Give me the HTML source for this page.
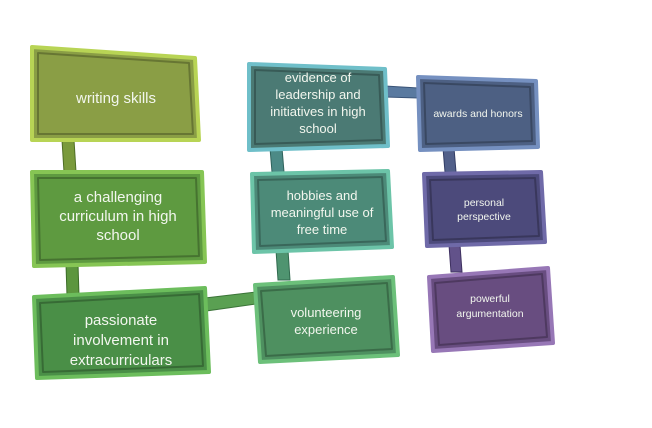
<!DOCTYPE html>
<html><head><style>
body{margin:0;background:#fff;}
svg text{font-family:"Liberation Sans",sans-serif;fill:#f2f6ee;text-anchor:middle;}
</style></head><body>
<svg width="652" height="423" viewBox="0 0 652 423" xmlns="http://www.w3.org/2000/svg">
<g stroke-width="1">
<polygon points="62,140 74,140 76,172 64,172" fill="#7a9a3c" stroke="#4f6e25"/>
<polygon points="66,264 78,264 79,296 67,296" fill="#5c963e" stroke="#3c6d28"/>
<polygon points="205,298 256,292 256,304 206,311" fill="#5aa052" stroke="#3b7438"/>
<polygon points="270,148 282,148 284,172 272,172" fill="#4c8a86" stroke="#2f625c"/>
<polygon points="276,250 288,250 290,280 278,280" fill="#4f9470" stroke="#306a4e"/>
<polygon points="385,86 418,88 418,98 385,97" fill="#5a7aa0" stroke="#3a5478"/>
<polygon points="443,148 454,148 456,172 445,172" fill="#52608a" stroke="#333e66"/>
<polygon points="449,245 460,245 462,272 451,272" fill="#62528a" stroke="#3e3060"/>
</g>
<g stroke-width="4" stroke-linejoin="round">
<polygon points="32,47 195,58 199,140 32,140" fill="#8a9e45" stroke="#b8d455"/>
<polygon points="32,172 202,172 205,262 34,266" fill="#5e9a40" stroke="#86c554"/>
<polygon points="34,297 205,288 209,372 37,378" fill="#4a8f47" stroke="#6cbd5c"/>
<polygon points="249,64 385,69 388,146 249,150" fill="#4b7a74" stroke="#6fbfc9"/>
<polygon points="252,174 388,171 392,247 254,252" fill="#4c8a78" stroke="#6cc4a8"/>
<polygon points="255,285 393,277 398,355 260,362" fill="#4e9060" stroke="#6cc07a"/>
<polygon points="418,77 536,81 538,147 420,150" fill="#4d6083" stroke="#7590c0"/>
<polygon points="424,174 541,172 545,242 427,246" fill="#4c4a7b" stroke="#6f6aa8"/>
<polygon points="429,277 548,268 553,343 433,351" fill="#684d80" stroke="#9777b6"/>
</g>
<g fill="none" stroke="rgba(0,0,0,0.25)" stroke-width="2" stroke-linejoin="round">
<polygon points="38,53 189,63 193,134 38,134"/>
<polygon points="38,178 196,178 199,256 40,260"/>
<polygon points="40,303 199,294 203,366 43,372"/>
<polygon points="255,70 379,75 382,140 255,144"/>
<polygon points="258,180 382,177 386,241 260,246"/>
<polygon points="261,291 387,283 392,349 266,356"/>
<polygon points="424,83 530,87 532,141 426,144"/>
<polygon points="430,180 535,178 539,236 433,240"/>
<polygon points="435,283 542,274 547,337 439,345"/>
</g>
<text x="116" y="103" font-size="15">writing skills</text>
<text x="118" y="202" font-size="15">a challenging</text>
<text x="118" y="221" font-size="15">curriculum in high</text>
<text x="118" y="240" font-size="15">school</text>
<text x="121" y="325" font-size="15">passionate</text>
<text x="121" y="345" font-size="15">involvement in</text>
<text x="121" y="365" font-size="15">extracurriculars</text>
<text x="318" y="82" font-size="13">evidence of</text>
<text x="318" y="99" font-size="13">leadership and</text>
<text x="318" y="116" font-size="13">initiatives in high</text>
<text x="318" y="133" font-size="13">school</text>
<text x="322" y="200" font-size="13">hobbies and</text>
<text x="322" y="217" font-size="13">meaningful use of</text>
<text x="322" y="234" font-size="13">free time</text>
<text x="326" y="317" font-size="13">volunteering</text>
<text x="326" y="334" font-size="13">experience</text>
<text x="478" y="117" font-size="10.5">awards and honors</text>
<text x="484" y="206" font-size="10.5">personal</text>
<text x="484" y="220" font-size="10.5">perspective</text>
<text x="490" y="302" font-size="10.5">powerful</text>
<text x="490" y="317" font-size="10.5">argumentation</text>
</svg>
</body></html>
